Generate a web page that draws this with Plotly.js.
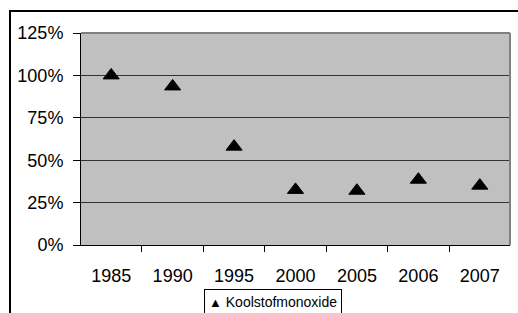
<!DOCTYPE html>
<html>
<head>
<meta charset="utf-8">
<script src="https://cdn.plot.ly/plotly-3.0.1.min.js"></script>
<style>html,body{margin:0;padding:0;background:#fff;}#chart{width:518px;height:313px;}</style>
</head>
<body>
<div id="chart"></div>
<script>
const years = ['1985', '1990', '1995', '2000', '2005', '2006', '2007'];
const koolstofmonoxide = [1.00, 0.935, 0.58, 0.325, 0.32, 0.385, 0.35];
const seriesName = 'Koolstofmonoxide';
const yTicks = [0, 0.25, 0.5, 0.75, 1.0, 1.25];

const FONT = 'Liberation Sans, Arial, sans-serif';

const trace = {
  type: 'scatter',
  mode: 'markers',
  x: years,
  y: koolstofmonoxide,
  name: seriesName,
  showlegend: false,
  marker: {symbol: 'triangle-up', size: 14, color: '#000', line: {color: '#000', width: 1}},
  hoverinfo: 'x+y'
};

const layout = {
  width: 518, height: 313,
  margin: {l: 81, r: 8, t: 33, b: 68, pad: 0},
  paper_bgcolor: '#fff',
  plot_bgcolor: '#C0C0C0',
  font: {family: FONT, size: 18, color: '#000'},
  showlegend: false,
  xaxis: {
    type: 'category',
    categoryorder: 'array', categoryarray: years,
    showgrid: false, zeroline: false,
    showline: true, linecolor: '#000', linewidth: 1,
    ticks: 'outside', tickson: 'boundaries', ticklen: 6, tickcolor: '#000', tickwidth: 1,
    ticklabelstandoff: 14, tickangle: 0,
    tickfont: {family: FONT, size: 18, color: '#000'},
    fixedrange: true
  },
  yaxis: {
    range: [0, 1.25],
    tickvals: yTicks,
    tickformat: '.0%',
    showgrid: true, gridcolor: '#333', gridwidth: 1,
    zeroline: false,
    showline: true, linecolor: '#000', linewidth: 1,
    ticks: 'outside', ticklen: 7, tickcolor: '#000', tickwidth: 1,
    ticklabelstandoff: 6,
    tickfont: {family: FONT, size: 18, color: '#000'},
    fixedrange: true
  },
  annotations: [
    {xref: 'paper', yref: 'paper', x: 0.4464, y: -0.2075, xanchor: 'center', yanchor: 'top',
     showarrow: false, align: 'left',
     text: '<span style="font-size:13px">▲</span> ' + seriesName,
     font: {family: FONT, size: 14, color: '#000'},
     bgcolor: '#fff', bordercolor: '#000', borderwidth: 1, borderpad: 4}
  ],
  shapes: [
    {type: 'rect', xref: 'paper', yref: 'paper', x0: -0.1655, x1: 1.3, y0: -0.6, y1: 1.1038,
     line: {color: '#000', width: 2}, fillcolor: 'rgba(0,0,0,0)', layer: 'above'},
    {type: 'line', xref: 'paper', yref: 'paper', x0: 0, x1: 1, y0: 1, y1: 1,
     line: {color: '#808080', width: 2}, layer: 'above'},
    {type: 'line', xref: 'paper', yref: 'paper', x0: 1, x1: 1, y0: 0, y1: 1,
     line: {color: '#808080', width: 2}, layer: 'above'}
  ]
};

Plotly.newPlot('chart', [trace], layout, {displayModeBar: false, staticPlot: true});
</script>
</body>
</html>
